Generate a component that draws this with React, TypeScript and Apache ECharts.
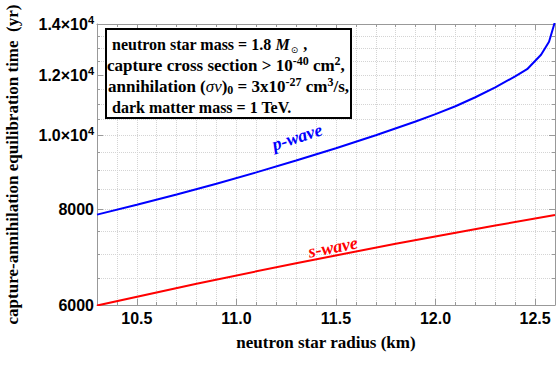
import React, { useEffect, useRef } from 'react';
import * as echarts from 'echarts';

// ---- data ----
const xMin = 10.3;
const xMax = 12.6;
const yMin = 6000;
const yMax = 14000;

const pWaveRadius = [10.3, 10.5, 10.7, 10.9, 11.1, 11.3, 11.5, 11.7, 11.9, 12.0, 12.1, 12.2, 12.3, 12.4, 12.46, 12.53, 12.57, 12.6];
const pWaveTime = [7880, 8117, 8373, 8650, 8951, 9275, 9627, 10010, 10435, 10667, 10926, 11225, 11567, 11955, 12216, 12760, 13270, 14100];

const sWaveRadius = [10.3, 10.8, 11.3, 11.8, 12.3, 12.6];
const sWaveTime = [5990, 6398, 6807, 7215, 7624, 7869];

const xMajorTicks = [10.5, 11.0, 11.5, 12.0, 12.5];
const xMinorTicks = [10.3, 10.4, 10.5, 10.6, 10.7, 10.8, 10.9, 11.0, 11.1, 11.2, 11.3, 11.4, 11.5, 11.6, 11.7, 11.8, 11.9, 12.0, 12.1, 12.2, 12.3, 12.4, 12.5, 12.6];
const yMajorTicks = [6000, 8000, 10000, 12000, 14000];
const yMinorTicks = [6000, 6500, 7000, 7500, 8000, 8500, 9000, 9500, 10000, 10500, 11000, 11500, 12000, 12500, 13000, 13500, 14000];

const xTitle = 'neutron star radius (km)';
const yTitle = 'capture-annihilation equilibration time  (yr)';

const lg = (v: number) => Math.log10(v);

const SERIF = "'Liberation Serif', 'Times New Roman', serif";
const SANS = "'Liberation Sans', Arial, sans-serif";
const FRAME = '#999999';
const GRID = '#d4d4d4';

function yLabel(v: number): string {
  const raw = Math.round(Math.pow(10, v) / 100) * 100;
  if (raw < 10000) return `{m|${raw}}`;
  return `{m|${(raw / 10000).toFixed(1)}×10}{s|4}`;
}

export default function App() {
  const ref = useRef<HTMLDivElement>(null);
  useEffect(() => {
    if (!ref.current) return;
    const chart = echarts.init(ref.current, undefined, { renderer: 'svg' });

    const xBase = {
      type: 'value' as const,
      min: xMin,
      max: xMax,
      axisLine: { onZero: false, show: false, lineStyle: { color: FRAME } },
      axisLabel: { show: false },
      splitLine: { show: false },
    };
    const yBase = {
      type: 'value' as const,
      min: lg(yMin),
      max: lg(yMax),
      axisLine: { onZero: false, show: false, lineStyle: { color: FRAME } },
      axisLabel: { show: false },
      splitLine: { show: false },
    };

    const tickStyle = (len: number, values: number[]) => ({
      show: true,
      inside: true,
      length: len,
      customValues: values,
      lineStyle: { color: FRAME, width: 1 },
    });

    const t17 = { fontFamily: SERIF, fontWeight: 'bold', fontSize: 17, fill: '#000', lineHeight: 20, verticalAlign: 'middle' };
    const sup12 = { fontFamily: SERIF, fontWeight: 'bold', fontSize: 12, fill: '#000', lineHeight: 12, verticalAlign: 'top' };
    const sub12 = { fontFamily: SERIF, fontWeight: 'bold', fontSize: 12, fill: '#000', lineHeight: 12, verticalAlign: 'bottom' };

    chart.setOption({
      animation: false,
      backgroundColor: '#ffffff',
      grid: { left: 97, right: 4, top: 24, bottom: 60, outerBoundsMode: 'none', containLabel: false },
      xAxis: [
        {
          ...xBase,
          position: 'bottom',
          axisLine: { onZero: false, show: true, lineStyle: { color: FRAME, width: 1 } },
          axisTick: tickStyle(3, xMinorTicks),
          axisLabel: {
            show: true,
            customValues: xMajorTicks,
            formatter: (v: number) => v.toFixed(1),
            fontFamily: SANS,
            fontWeight: 'bold',
            fontSize: 16,
            color: '#000',
            margin: 5,
          },
          splitLine: { show: true, lineStyle: { color: GRID, type: 'dotted', width: 1 } },
          name: xTitle,
          nameLocation: 'middle',
          nameGap: 29,
          nameTextStyle: { fontFamily: SERIF, fontWeight: 'bold', fontSize: 17, color: '#000' },
        },
        { ...xBase, position: 'bottom', axisTick: tickStyle(6, xMajorTicks) },
        {
          ...xBase,
          position: 'top',
          axisLine: { onZero: false, show: true, lineStyle: { color: FRAME, width: 1 } },
          axisTick: tickStyle(3, xMinorTicks),
        },
        { ...xBase, position: 'top', axisTick: tickStyle(6, xMajorTicks) },
      ],
      yAxis: [
        {
          ...yBase,
          position: 'left',
          axisLine: { onZero: false, show: true, lineStyle: { color: FRAME, width: 1 } },
          axisTick: tickStyle(3, yMinorTicks.map(lg)),
          axisLabel: {
            show: true,
            customValues: yMajorTicks.map(lg),
            formatter: yLabel,
            margin: 3,
            rich: {
              m: { fontFamily: SANS, fontWeight: 'bold', fontSize: 16, color: '#000', lineHeight: 20, verticalAlign: 'middle' },
              s: { fontFamily: SANS, fontWeight: 'bold', fontSize: 11, color: '#000', lineHeight: 12, verticalAlign: 'top' },
            },
          },
          splitLine: { show: true, lineStyle: { color: GRID, type: 'dotted', width: 1 } },
          name: yTitle,
          nameLocation: 'middle',
          nameGap: 76,
          nameTextStyle: { fontFamily: SERIF, fontWeight: 'bold', fontSize: 17, color: '#000' },
        },
        { ...yBase, position: 'left', axisTick: tickStyle(6, yMajorTicks.map(lg)) },
        {
          ...yBase,
          position: 'right',
          axisLine: { onZero: false, show: true, lineStyle: { color: FRAME, width: 1 } },
          axisTick: tickStyle(3, yMinorTicks.map(lg)),
        },
        { ...yBase, position: 'right', axisTick: tickStyle(6, yMajorTicks.map(lg)) },
      ],
      series: [
        {
          name: 'p-wave',
          type: 'line',
          xAxisIndex: 0,
          yAxisIndex: 0,
          data: pWaveRadius.map((r, i) => [r, lg(pWaveTime[i])]),
          showSymbol: false,
          symbol: 'none',
          smooth: false,
          clip: true,
          lineStyle: { color: '#0000ff', width: 2 },
        },
        {
          name: 's-wave',
          type: 'line',
          xAxisIndex: 0,
          yAxisIndex: 0,
          data: sWaveRadius.map((r, i) => [r, lg(sWaveTime[i])]),
          showSymbol: false,
          symbol: 'none',
          clip: true,
          lineStyle: { color: '#ff0000', width: 2 },
        },
      ],
      graphic: [
        {
          type: 'rect',
          shape: { x: 106, y: 29, width: 245, height: 89 },
          style: { fill: '#ffffff', stroke: '#000000', lineWidth: 2 },
          z: 10,
        },
        {
          type: 'text',
          x: 112,
          y: 44,
          z: 11,
          style: {
            text: '{t|neutron star mass = 1.8 }{it|M}{sub|⊙}{t| ,}',
            verticalAlign: 'middle',
            rich: {
              t: { ...t17, fontSize: 16 },
              it: { ...t17, fontSize: 16, fontStyle: 'italic' },
              sub: { fontFamily: "'DejaVu Sans', sans-serif", fontSize: 9, fill: '#000', lineHeight: 12, verticalAlign: 'bottom', padding: [0, 1, 0, 1] },
            },
          },
        },
        {
          type: 'text',
          x: 107,
          y: 65,
          z: 11,
          style: {
            text: '{t|capture cross section > 10}{sup|-40}{t| cm}{sup|2}{t|,}',
            verticalAlign: 'middle',
            rich: { t: t17, sup: sup12 },
          },
        },
        {
          type: 'text',
          x: 108,
          y: 86,
          z: 11,
          style: {
            text: '{t|annihilation (}{it|σv}{t|)}{sub|0}{t| = 3x10}{sup|-27}{t| cm}{sup|3}{t|/s,}',
            verticalAlign: 'middle',
            rich: {
              t: t17,
              it: { ...t17, fontWeight: 'normal', fontStyle: 'italic' },
              sub: sub12,
              sup: sup12,
            },
          },
        },
        {
          type: 'text',
          x: 112,
          y: 107,
          z: 11,
          style: {
            text: 'dark matter mass = 1 TeV.',
            fontFamily: SERIF,
            fontWeight: 'bold',
            fontSize: 16,
            fill: '#000',
            verticalAlign: 'middle',
          },
        },
        {
          type: 'text',
          x: 297,
          y: 137,
          rotation: (18 * Math.PI) / 180,
          z: 11,
          style: {
            text: 'p-wave',
            fontFamily: SERIF,
            fontWeight: 'bold',
            fontStyle: 'italic',
            fontSize: 18,
            fill: '#0000ff',
            align: 'center',
            verticalAlign: 'middle',
          },
        },
        {
          type: 'text',
          x: 333,
          y: 247,
          rotation: (11 * Math.PI) / 180,
          z: 11,
          style: {
            text: 's-wave',
            fontFamily: SERIF,
            fontWeight: 'bold',
            fontStyle: 'italic',
            fontSize: 18,
            fill: '#ff0000',
            align: 'center',
            verticalAlign: 'middle',
          },
        },
      ],
    });

    return () => chart.dispose();
  }, []);

  return <div ref={ref} style={{ position: 'fixed', left: 0, top: 0, width: 559, height: 365 }} />;
}
